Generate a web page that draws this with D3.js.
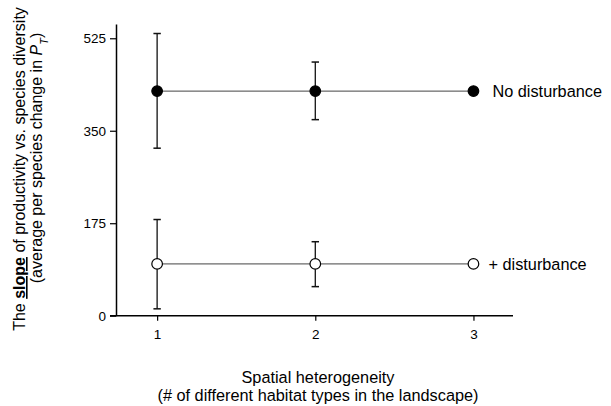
<!DOCTYPE html>
<html>
<head>
<meta charset="utf-8">
<script src="https://cdn.jsdelivr.net/npm/d3@7"></script>
<style>
  html, body { margin: 0; padding: 0; background: #fff; }
  svg { display: block; font-family: "Liberation Sans", Arial, Helvetica, sans-serif; }
</style>
</head>
<body>
<svg id="chart" width="611" height="406"></svg>
<script>
// ---- data ----
const heterogeneity = [1, 2, 3];
const xTicks = [1, 2, 3];
const yTicks = [0, 175, 350, 525];

const noDistMean = [425, 425, 425];
const noDistLow  = [317, 371, null];
const noDistHigh = [534, 480, null];

const distMean = [98, 98, 98];
const distLow  = [13, 55, null];
const distHigh = [182, 140, null];

const seriesNames = ["No disturbance", "+ disturbance"];

// ---- layout ----
const svg = d3.select("#chart");
const x = d3.scaleLinear().domain([0.74, 3.25]).range([116, 513]);
const y = d3.scaleLinear().domain([0, 552]).range([315.7, 24]);

// axes
const gx = svg.append("g").attr("transform", `translate(0,${y(0)})`)
  .call(d3.axisBottom(x).tickValues(xTicks).tickFormat(d3.format("d")).tickSize(5).tickSizeOuter(0));
const gy = svg.append("g").attr("transform", `translate(${x.range()[0]},0)`)
  .call(d3.axisLeft(y).tickValues(yTicks).tickSize(6).tickSizeOuter(0));

[gx, gy].forEach(g => {
  g.select(".domain").attr("stroke", "#000").attr("stroke-width", 1.5);
  g.selectAll(".tick line").attr("stroke", "#000").attr("stroke-width", 1.2);
  g.selectAll(".tick text").attr("fill", "#000").style("font-size", "13.5px")
    .style("font-family", "'Liberation Sans', Arial, sans-serif");
});
gx.selectAll(".tick text").attr("dy", "1.1em");
gy.selectAll(".tick text").attr("x", -10);
// extend x-axis a little to the left (as in reference)
gx.select(".domain").attr("d", `M${x.range()[0]-6},0H${x.range()[1]}`);

function drawSeries(mean, low, high, filled) {
  const g = svg.append("g");
  const pts = heterogeneity.map((h, i) => ({h, m: mean[i], lo: low[i], hi: high[i]}));
  g.append("path").datum(pts)
    .attr("d", d3.line().x(d => x(d.h)).y(d => y(d.m)))
    .attr("fill", "none").attr("stroke", "#444").attr("stroke-width", 1);
  const eb = g.selectAll(".eb").data(pts.filter(d => d.lo != null)).enter().append("g");
  eb.append("line").attr("x1", d => x(d.h)).attr("x2", d => x(d.h))
    .attr("y1", d => y(d.lo)).attr("y2", d => y(d.hi))
    .attr("stroke", "#111").attr("stroke-width", 1.3);
  [d => d.lo, d => d.hi].forEach(acc => {
    eb.append("line").attr("x1", d => x(d.h) - 3.7).attr("x2", d => x(d.h) + 3.7)
      .attr("y1", d => y(acc(d))).attr("y2", d => y(acc(d)))
      .attr("stroke", "#111").attr("stroke-width", 1.5);
  });
  g.selectAll("circle").data(pts).enter().append("circle")
    .attr("cx", d => x(d.h)).attr("cy", d => y(d.m)).attr("r", 5.3)
    .attr("fill", filled ? "#000" : "#fff").attr("stroke", "#000").attr("stroke-width", 1.2);
}
drawSeries(noDistMean, noDistLow, noDistHigh, true);
drawSeries(distMean, distLow, distHigh, false);

// series labels
svg.append("text").attr("x", x(3) + 19).attr("y", y(noDistMean[2]) + 5.5)
  .style("font-size", "16.3px").attr("fill", "#000").text(seriesNames[0]);
svg.append("text").attr("x", x(3) + 15).attr("y", y(distMean[2]) + 6)
  .style("font-size", "16.3px").attr("fill", "#000").text(seriesNames[1]);

// x-axis title
const xt = svg.append("text").attr("text-anchor", "middle").style("font-size", "16.3px").attr("fill", "#000");
xt.append("tspan").attr("x", 318).attr("y", 383).text("Spatial heterogeneity");
xt.append("tspan").attr("x", 318).attr("y", 401).text("(# of different habitat types in the landscape)");

// y-axis title
const yt1 = svg.append("text").attr("text-anchor", "middle").style("font-size", "16px").attr("fill", "#000")
  .attr("transform", "translate(25,169) rotate(-90)");
yt1.append("tspan").text("The ");
yt1.append("tspan").style("font-weight", "bold").style("text-decoration", "underline").text("slope");
yt1.append("tspan").text(" of productivity vs. species diversity");

const yt2 = svg.append("text").attr("text-anchor", "middle").style("font-size", "16px").attr("fill", "#000")
  .attr("transform", "translate(42,158) rotate(-90)");
yt2.append("tspan").text("(average per species change in ");
yt2.append("tspan").style("font-style", "italic").text("P");
yt2.append("tspan").attr("baseline-shift", "sub").style("font-size", "11px").style("font-style", "italic").text("T");
yt2.append("tspan").text(")");
</script>
</body>
</html>
